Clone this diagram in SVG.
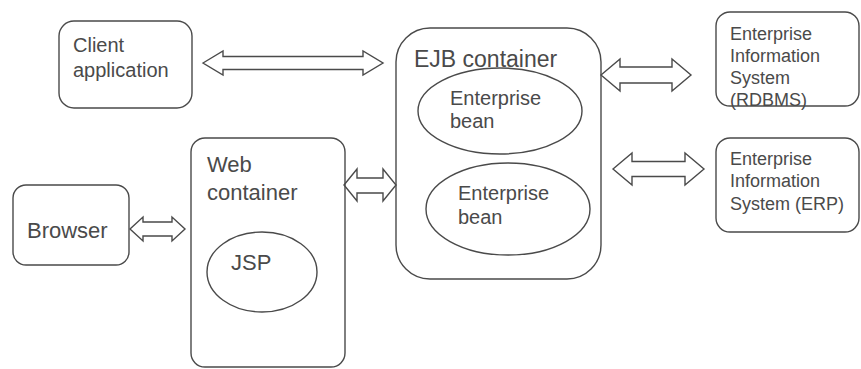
<svg xmlns="http://www.w3.org/2000/svg" width="861" height="369" viewBox="0 0 861 369">
  <style>
    .box { fill: none; stroke: #4a4a4a; stroke-width: 1.4; }
    .arrow { fill: #ffffff; stroke: #4a4a4a; stroke-width: 1.4; stroke-linejoin: miter; }
    text { font-family: "Liberation Sans", Arial, sans-serif; fill: #4a4a4a; }
    .t20 { font-size: 20px; }
    .t22 { font-size: 22px; }
    .t23 { font-size: 23px; }
    .t18 { font-size: 18px; }
  </style>
  <rect width="861" height="369" fill="#ffffff"/>

  <!-- double-headed block arrows -->
  <g id="connectors">
    <polygon class="arrow" points="203,63 223,51 223,56.5 363,56.5 363,51 383,63 363,75 363,69.5 223,69.5 223,75"/>
    <polygon class="arrow" points="130,229 143,217 143,222 172,222 172,217 185,229 172,241 172,236 143,236 143,241"/>
    <polygon class="arrow" points="344,185 357,169 357,178 383,178 383,169 396,185 383,201 383,193 357,193 357,201"/>
    <polygon class="arrow" points="601,75 620,59 620,67 672,67 672,59 691,75 672,91 672,83 620,83 620,91"/>
    <polygon class="arrow" points="613,169 632,153 632,161.5 685,161.5 685,153 704,169 685,185 685,176.5 632,176.5 632,185"/>
  </g>

  <g id="client-application">
    <rect class="box" x="59" y="21" width="133" height="87" rx="15"/>
    <text class="t20" x="73" y="52">Client</text>
    <text class="t20" x="73" y="77">application</text>
  </g>

  <g id="browser">
    <rect class="box" x="13" y="185" width="116" height="80" rx="13"/>
    <text class="t22" x="27" y="238">Browser</text>
  </g>

  <g id="web-container">
    <rect class="box" x="191" y="138" width="154" height="229" rx="14"/>
    <text class="t22" x="207" y="172">Web</text>
    <text class="t22" x="207" y="200">container</text>
  </g>

  <g id="jsp">
    <ellipse class="box" cx="262" cy="272" rx="55" ry="40"/>
    <text class="t22" x="231" y="270">JSP</text>
  </g>

  <g id="ejb-container">
    <rect class="box" x="396" y="28" width="205" height="251" rx="34"/>
    <text class="t23" x="414" y="67">EJB container</text>
  </g>

  <g id="enterprise-bean-1">
    <ellipse class="box" cx="500" cy="111" rx="82" ry="43"/>
    <text class="t20" x="450" y="105">Enterprise</text>
    <text class="t20" x="450" y="128">bean</text>
  </g>

  <g id="enterprise-bean-2">
    <ellipse class="box" cx="508" cy="209" rx="82" ry="46"/>
    <text class="t20" x="458" y="200">Enterprise</text>
    <text class="t20" x="458" y="224">bean</text>
  </g>

  <g id="eis-rdbms">
    <rect class="box" x="716" y="12" width="143" height="94" rx="14"/>
    <text class="t18" x="730" y="40">Enterprise</text>
    <text class="t18" x="730" y="62">Information</text>
    <text class="t18" x="730" y="84">System</text>
    <text class="t18" x="730" y="106">(RDBMS)</text>
  </g>

  <g id="eis-erp">
    <rect class="box" x="716" y="138" width="143" height="94" rx="14"/>
    <text class="t18" x="730" y="165">Enterprise</text>
    <text class="t18" x="730" y="187">Information</text>
    <text class="t18" x="730" y="210">System (ERP)</text>
  </g>
</svg>
